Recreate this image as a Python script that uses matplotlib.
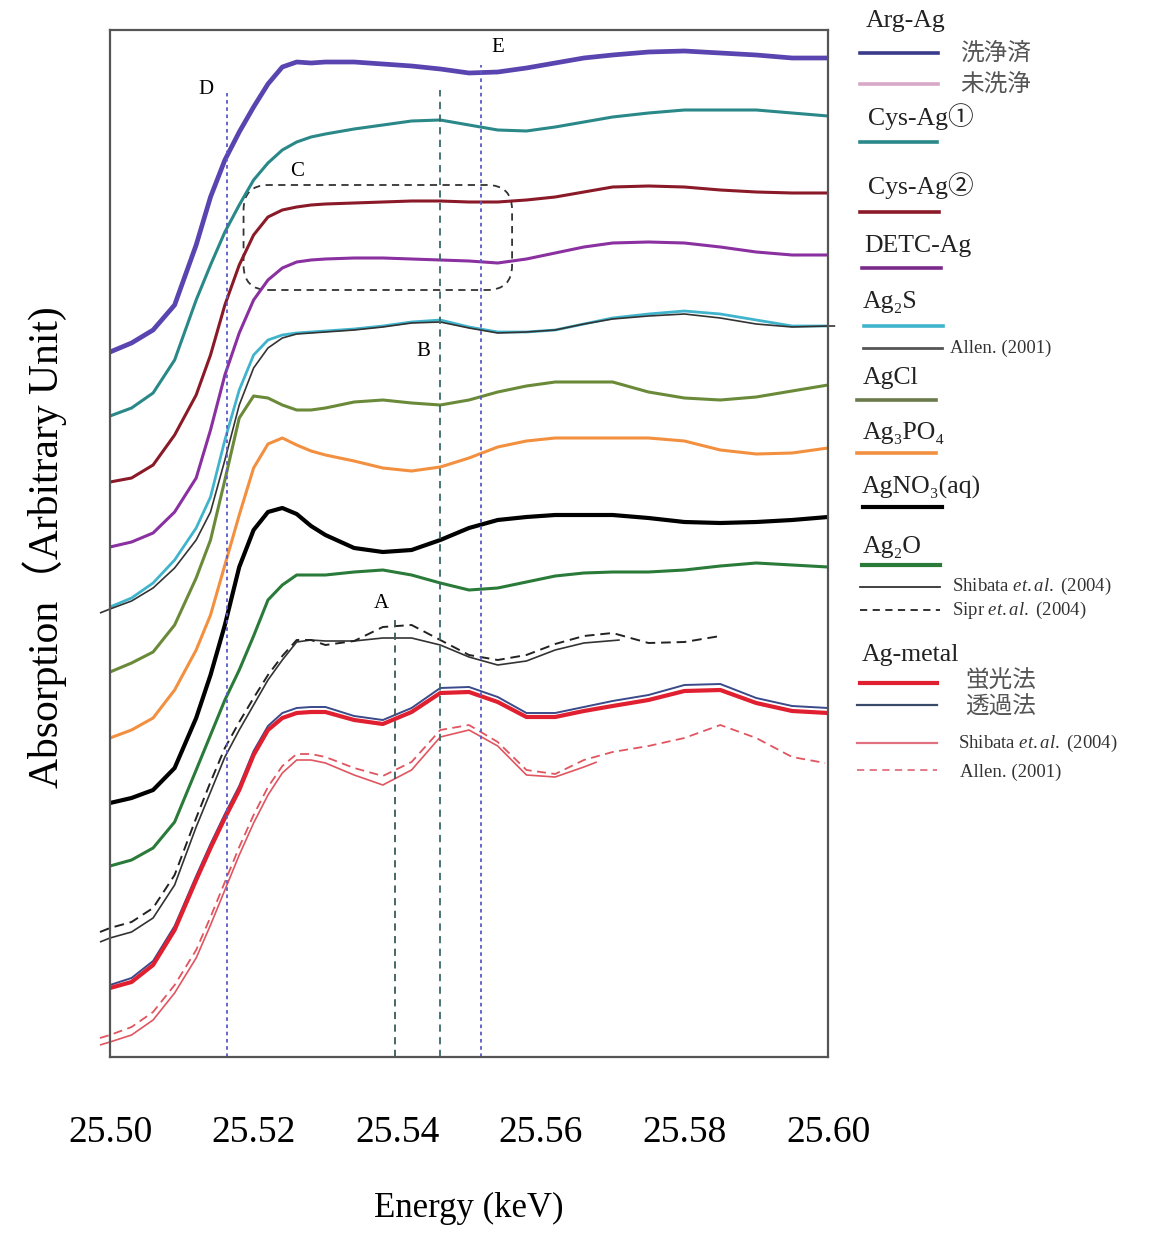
import numpy as np
import matplotlib
matplotlib.use("Agg")
import matplotlib.pyplot as plt
from matplotlib.lines import Line2D
from matplotlib.patches import FancyBboxPatch

#=============================================================================#
# Data (energy in keV, absorption in arbitrary units)
#=============================================================================#
energy = [25.500, 25.503, 25.506, 25.509, 25.512, 25.514, 25.516, 25.518, 25.520, 25.522,
          25.524, 25.526, 25.528, 25.530, 25.534, 25.538, 25.542, 25.546, 25.550, 25.554,
          25.558, 25.562, 25.566, 25.570, 25.575, 25.580, 25.585, 25.590, 25.595, 25.600]

arg_ag = [7.05, 7.14, 7.27, 7.52, 8.12, 8.60, 8.97, 9.25, 9.50, 9.73, 9.90, 9.95, 9.94, 9.95, 9.95,
          9.93, 9.91, 9.88, 9.84, 9.85, 9.89, 9.94, 9.99, 10.02, 10.05, 10.06, 10.04, 10.02, 9.99, 9.99]
cys_ag1 = [6.41, 6.49, 6.64, 6.97, 7.57, 7.92, 8.25, 8.52, 8.77, 8.94, 9.07, 9.15, 9.20, 9.23, 9.28,
           9.32, 9.36, 9.37, 9.32, 9.27, 9.26, 9.30, 9.35, 9.40, 9.44, 9.47, 9.47, 9.47, 9.44, 9.41]
cys_ag2 = [5.75, 5.79, 5.92, 6.22, 6.62, 7.02, 7.52, 7.92, 8.22, 8.40, 8.47, 8.50, 8.52, 8.53, 8.54,
           8.55, 8.56, 8.56, 8.55, 8.55, 8.57, 8.60, 8.65, 8.70, 8.71, 8.70, 8.67, 8.65, 8.64, 8.64]
detc_ag = [5.10, 5.15, 5.24, 5.45, 5.79, 6.27, 6.82, 7.24, 7.57, 7.77, 7.89, 7.95, 7.97, 7.98, 7.99,
           7.99, 7.98, 7.97, 7.96, 7.94, 7.98, 8.04, 8.10, 8.14, 8.15, 8.14, 8.10, 8.05, 8.02, 8.02]
ag2s = [4.50, 4.59, 4.74, 4.97, 5.29, 5.60, 6.17, 6.67, 7.02, 7.17, 7.22, 7.24, 7.25, 7.26, 7.28,
        7.31, 7.35, 7.37, 7.30, 7.25, 7.25, 7.27, 7.33, 7.39, 7.43, 7.46, 7.43, 7.37, 7.31, 7.31]
agcl = [3.85, 3.94, 4.05, 4.32, 4.79, 5.17, 5.77, 6.39, 6.61, 6.59, 6.52, 6.47, 6.47, 6.49, 6.55,
        6.57, 6.54, 6.52, 6.57, 6.65, 6.71, 6.75, 6.75, 6.75, 6.65, 6.59, 6.57, 6.60, 6.66, 6.72]
ag3po4 = [3.19, 3.27, 3.39, 3.67, 4.07, 4.42, 4.92, 5.42, 5.89, 6.13, 6.19, 6.12, 6.06, 6.02, 5.96,
          5.89, 5.86, 5.90, 5.99, 6.10, 6.16, 6.19, 6.19, 6.19, 6.19, 6.16, 6.07, 6.03, 6.04, 6.09]
agno3 = [2.54, 2.59, 2.67, 2.89, 3.39, 3.82, 4.32, 4.90, 5.27, 5.45, 5.49, 5.43, 5.31, 5.22, 5.09,
         5.05, 5.07, 5.17, 5.29, 5.37, 5.40, 5.42, 5.42, 5.42, 5.39, 5.35, 5.34, 5.35, 5.37, 5.40]
ag2o = [1.91, 1.97, 2.09, 2.35, 2.87, 3.22, 3.57, 3.87, 4.21, 4.57, 4.72, 4.82, 4.82, 4.82, 4.85,
        4.87, 4.82, 4.74, 4.67, 4.69, 4.75, 4.81, 4.84, 4.85, 4.85, 4.87, 4.91, 4.94, 4.92, 4.90]
metal_fluo = [0.69, 0.75, 0.92, 1.27, 1.77, 2.09, 2.39, 2.67, 3.02, 3.27, 3.39, 3.44, 3.45, 3.45, 3.37,
              3.33, 3.45, 3.64, 3.65, 3.55, 3.40, 3.40, 3.46, 3.51, 3.57, 3.66, 3.67, 3.54, 3.46, 3.44]
metal_trans = [0.72, 0.79, 0.96, 1.31, 1.81, 2.13, 2.43, 2.71, 3.06, 3.31, 3.44, 3.49, 3.50, 3.50, 3.41,
               3.37, 3.49, 3.69, 3.70, 3.60, 3.44, 3.44, 3.50, 3.56, 3.62, 3.72, 3.73, 3.59, 3.51, 3.49]

# literature spectra (own energy ranges)
e_allen_ag2s = [25.4986] + energy + [25.6010]
allen_ag2s = [4.44, 4.48, 4.56, 4.69, 4.89, 5.17, 5.45, 5.97, 6.52, 6.89, 7.09, 7.19, 7.23, 7.24, 7.25,
              7.27, 7.30, 7.34, 7.35, 7.29, 7.24, 7.25, 7.27, 7.33, 7.38, 7.41, 7.43, 7.39, 7.33, 7.30,
              7.31, 7.31]
e_shibata_ag2o = [25.4986] + energy[:23] + [25.5710]
shibata_ag2o = [1.15, 1.19, 1.25, 1.39, 1.72, 2.30, 2.65, 3.00, 3.27, 3.52, 3.77, 3.97, 4.15, 4.17,
                4.16, 4.16, 4.19, 4.19, 4.12, 4.00, 3.92, 3.96, 4.07, 4.14, 4.17]
e_sipr_ag2o = [25.4986] + energy[:27]
sipr_ag2o = [1.25, 1.29, 1.35, 1.49, 1.82, 2.39, 2.75, 3.09, 3.35, 3.59, 3.82, 4.01, 4.17, 4.17,
             4.12, 4.16, 4.30, 4.32, 4.17, 4.02, 3.97, 4.02, 4.13, 4.21, 4.24, 4.14, 4.15, 4.21]
e_shibata_metal = [25.4986] + energy[:23] + [25.5678]
shibata_metal = [0.12, 0.15, 0.22, 0.37, 0.64, 0.99, 1.32, 1.67, 2.02, 2.34, 2.62, 2.84, 2.97, 2.97,
                 2.94, 2.82, 2.72, 2.87, 3.20, 3.27, 3.11, 2.82, 2.80, 2.90, 2.95]
e_allen_metal = [25.4986] + energy[:29] + [25.5996]
allen_metal = [0.19, 0.22, 0.30, 0.45, 0.72, 1.07, 1.40, 1.75, 2.10, 2.42, 2.70, 2.91, 3.03, 3.03,
               3.00, 2.89, 2.81, 2.95, 3.27, 3.32, 3.15, 2.87, 2.83, 2.97, 3.05, 3.11, 3.19, 3.32,
               3.19, 3.00, 2.94]

# marker lines A, B, D, E (keV)
mark_names = ["D", "A", "B", "E"]
mark_energy = [25.5163, 25.5397, 25.5460, 25.5517]

xticks = [25.50, 25.52, 25.54, 25.56, 25.58, 25.60]
xtick_labels = ["25.50", "25.52", "25.54", "25.56", "25.58", "25.60"]

#=============================================================================#
# Figure
#=============================================================================#
W, H = 1163, 1235
SERIF = ["Liberation Serif", "DejaVu Serif", "Noto Sans CJK JP"]
JP = ["Noto Sans CJK JP", "DejaVu Sans"]

plt.rcParams["mathtext.fontset"] = "custom"
plt.rcParams["mathtext.it"] = "Liberation Serif:italic"
plt.rcParams["mathtext.rm"] = "Liberation Serif"

fig = plt.figure(figsize=(W / 100, H / 100), dpi=100)
ax = fig.add_axes([110 / W, 1 - 1057 / H, 718 / W, 1027 / H])
ax.set_xlim(25.50, 25.60)
ax.set_ylim(0, 10.27)

def fpos(px, py):
    return px / W, 1 - py / H

# main spectra: (x, y, colour, width, style)
curves = [
    (energy, arg_ag, "#d8a6c8", 2.0, "-"),       # 未洗浄 (hidden under 洗浄済)
    (energy, arg_ag, "#5a44b0", 3.4, "-"),
    (energy, cys_ag1, "#2a8888", 2.2, "-"),
    (energy, cys_ag2, "#8a1a28", 2.2, "-"),
    (energy, detc_ag, "#8a30a0", 2.2, "-"),
    (energy, ag2s, "#40b4cc", 2.0, "-"),
    (e_allen_ag2s, allen_ag2s, "#333333", 1.2, "-"),
    (energy, agcl, "#6a8a3a", 2.2, "-"),
    (energy, ag3po4, "#f29040", 2.2, "-"),
    (energy, agno3, "#000000", 3.0, "-"),
    (energy, ag2o, "#2a7a3a", 2.2, "-"),
    (e_shibata_ag2o, shibata_ag2o, "#333333", 1.2, "-"),
    (e_sipr_ag2o, sipr_ag2o, "#222222", 1.4, (0, (5, 3))),
    (energy, metal_trans, "#3a4a8a", 1.4, "-"),
    (energy, metal_fluo, "#e02030", 3.0, "-"),
    (e_shibata_metal, shibata_metal, "#e05560", 1.2, "-"),
    (e_allen_metal, allen_metal, "#e05560", 1.3, (0, (5, 3))),
]
for x, y, c, lw, ls in curves:
    ax.plot(x, y, color=c, lw=lw, ls=ls, clip_on=False, solid_capstyle="butt",
            solid_joinstyle="round")

# marker lines
mark_style = {"D": ("#5a5ac8", (0, (2, 2)), 9.64),
              "A": ("#3a5a5a", (0, (4, 3)), 4.42),
              "B": ("#3a6a6a", (0, (4, 3)), 9.67),
              "E": ("#5a5ac8", (0, (2, 2)), 9.92)}
for name, e in zip(mark_names, mark_energy):
    c, ls, top = mark_style[name]
    ax.plot([e, e], [0, top], color=c, ls=ls, lw=1.3)

label_pos = {"D": (25.5134, 9.67), "E": (25.5540, 10.09),
             "B": (25.5436, 7.05), "A": (25.5378, 4.54)}
for name in mark_names:
    lx, ly = label_pos[name]
    ax.text(lx, ly, name, family=SERIF, fontsize=15, ha="center", va="center")
ax.text(25.5261, 8.85, "C", family=SERIF, fontsize=15, ha="center", va="center")

box = FancyBboxPatch((25.5186, 7.67), 25.5560 - 25.5186, 8.72 - 7.67,
                     boxstyle="round,pad=0,rounding_size=0.0035", mutation_aspect=71,
                     fill=False, ec="#333333", lw=1.3, ls=(0, (4, 3)))
ax.add_patch(box)

for s in ax.spines.values():
    s.set_color("#555555")
    s.set_linewidth(1.6)
ax.set_yticks([])
ax.set_xticks(xticks, xtick_labels)
ax.tick_params(axis="x", length=0, pad=42, labelsize=27)
for t in ax.get_xticklabels():
    t.set_family(SERIF)
ax.set_xlabel("Energy (keV)", family=SERIF, fontsize=25, labelpad=30)

fig.text(*fpos(45, 547), "Absorption（Arbitrary Unit)", family=SERIF, fontsize=30,
         rotation=90, ha="center", va="center")

#=============================================================================#
# Hand-made legend on the right
#=============================================================================#
# (y, colour, width, style, x0, x1)
legend_lines = [
    (53, "#3a3a8a", 2.6, "-", 860, 938),
    (84, "#d8a8c8", 2.6, "-", 860, 938),
    (142, "#2a8888", 2.6, "-", 860, 937),
    (212, "#8a1a28", 2.6, "-", 860, 939),
    (268, "#7a2a8a", 2.6, "-", 862, 941),
    (326, "#40b4cc", 2.6, "-", 864, 943),
    (348, "#555555", 2.0, "-", 863, 942),
    (400, "#6a7a4a", 2.6, "-", 857, 936),
    (453, "#f29040", 2.6, "-", 857, 936),
    (507, "#000000", 3.0, "-", 863, 942),
    (565, "#2a7a3a", 3.0, "-", 862, 940),
    (587, "#333333", 1.3, "-", 860, 940),
    (610, "#222222", 1.3, (0, (4, 3)), 860, 940),
    (683, "#e02030", 3.0, "-", 860, 937),
    (705, "#3a4a6a", 1.6, "-", 857, 937),
    (743, "#e07080", 1.6, "-", 857, 937),
    (770, "#e07080", 1.3, (0, (4, 3)), 857, 937),
]
for py, c, lw, ls, x0, x1 in legend_lines:
    (fx0, fy), (fx1, _) = fpos(x0, py), fpos(x1, py)
    fig.add_artist(Line2D([fx0, fx1], [fy, fy], color=c, lw=lw, ls=ls))

legend_heads = [
    ("Arg-Ag", 866, 21), ("Cys-Ag①", 868, 117), ("Cys-Ag②", 868, 186),
    ("DETC-Ag", 864, 246), ("Ag₂S", 863, 302), ("AgCl", 863, 378),
    ("Ag₃PO₄", 863, 433), ("AgNO₃(aq)", 862, 487), ("Ag₂O", 863, 547),
    ("Ag-metal", 862, 655),
]
for txt, px, py in legend_heads:
    fig.text(*fpos(px, py), txt, family=SERIF, fontsize=18.5, color="#222222",
             ha="left", va="center")

legend_jp = [("洗浄済", 960, 53), ("未洗浄", 960, 84), ("蛍光法", 965, 681), ("透過法", 965, 707)]
for txt, px, py in legend_jp:
    fig.text(*fpos(px, py), txt, family=JP, fontsize=17, color="#555555",
             ha="left", va="center")

legend_refs = [
    ("Allen. (2001)", 950, 348),
    ("Shibata $\\it{et.al.}$ (2004)", 952, 586),
    ("Sipr $\\it{et.al.}$ (2004)", 952, 610),
    ("Shibata $\\it{et.al.}$ (2004)", 958, 743),
    ("Allen. (2001)", 960, 772),
]
for txt, px, py in legend_refs:
    fig.text(*fpos(px, py), txt, family=SERIF, fontsize=13.5, color="#333333",
             ha="left", va="center")

fig.savefig("out.png", dpi=100)
